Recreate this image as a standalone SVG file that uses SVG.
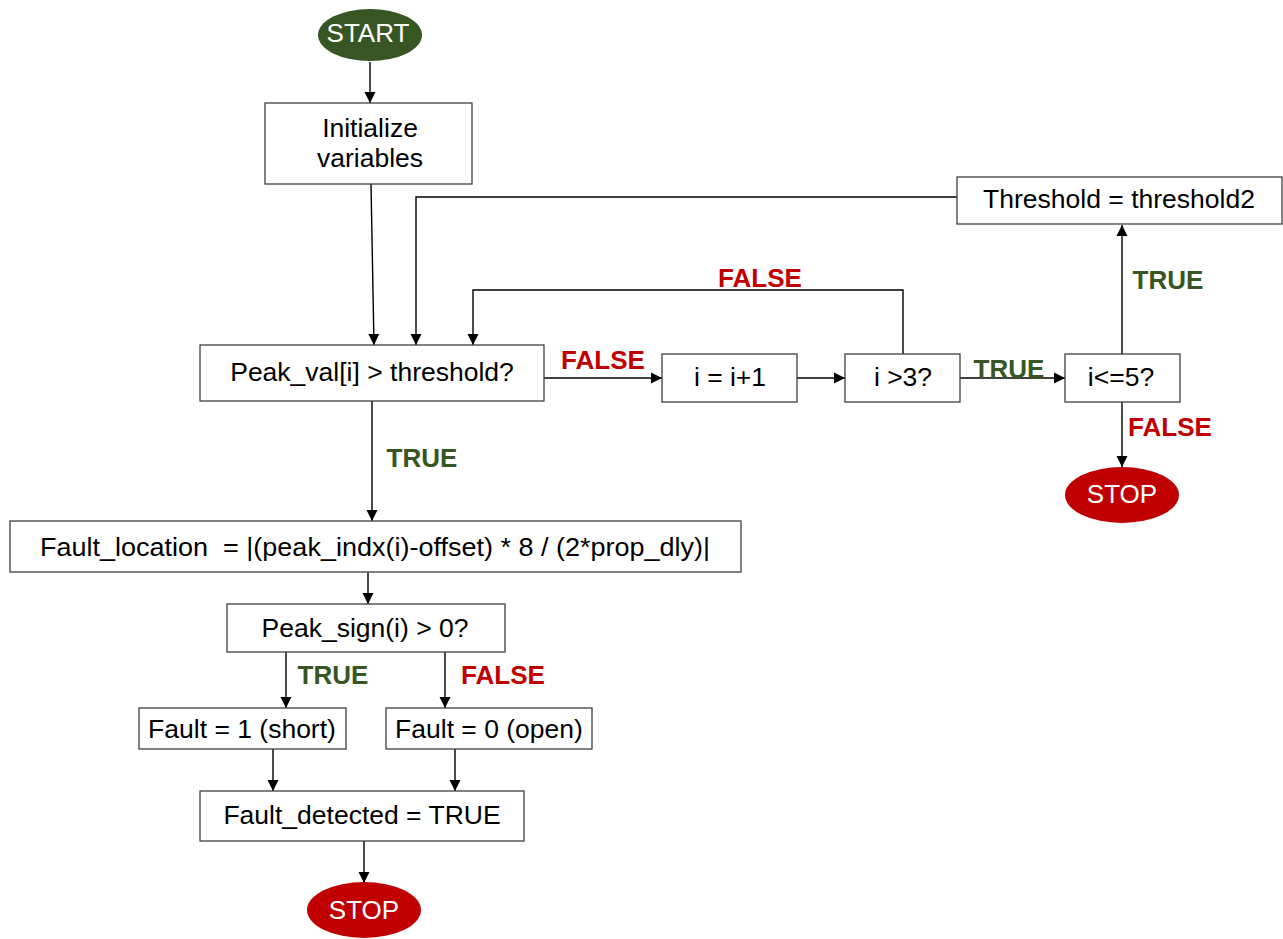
<svg xmlns="http://www.w3.org/2000/svg" width="1283" height="939" viewBox="0 0 1283 939">
<defs>
<marker id="ah" markerUnits="userSpaceOnUse" markerWidth="12" markerHeight="12" refX="11" refY="6" orient="auto">
<path d="M0,0.5 L11,6 L0,11.5 z" fill="#000"/>
</marker>
<style>
.box{fill:#fff;stroke:#404040;stroke-width:1.3}
.t{font-family:"Liberation Sans",Arial,sans-serif;font-size:26.5px;fill:#000;text-anchor:middle}
.w{font-family:"Liberation Sans",Arial,sans-serif;font-size:26px;fill:#fff;text-anchor:middle}
.lt{font-family:"Liberation Sans",Arial,sans-serif;font-size:26px;font-weight:bold;fill:#375623;text-anchor:middle}
.lf{font-family:"Liberation Sans",Arial,sans-serif;font-size:26px;font-weight:bold;fill:#C00000;text-anchor:middle}
.c{fill:none;stroke:#000;stroke-width:1.4;marker-end:url(#ah)}
</style>
</defs>
<rect width="1283" height="939" fill="#fff"/>
<g id="connectors">
<path class="c" d="M370,62 L370,103"/>
<path class="c" d="M371,184 L374,345"/>
<path class="c" d="M957,197 L416,197 L416,345"/>
<path class="c" d="M903,354 L903,290 L473,290 L473,345"/>
<path class="c" d="M544,378 L662,378"/>
<path class="c" d="M797,378 L845,378"/>
<path class="c" d="M960,378 L1065,378"/>
<path class="c" d="M1122,354 L1122,225"/>
<path class="c" d="M1122,402 L1122,467"/>
<path class="c" d="M372,401 L372,521"/>
<path class="c" d="M368,572 L368,604"/>
<path class="c" d="M286,652 L286,708"/>
<path class="c" d="M445,652 L445,708"/>
<path class="c" d="M273,749 L273,791"/>
<path class="c" d="M455,749 L455,791"/>
<path class="c" d="M364,841 L364,883"/>
<text class="lf" x="603" y="369">FALSE</text>
<text class="lf" x="760" y="287">FALSE</text>
<text class="lt" x="1009" y="378">TRUE</text>
<text class="lt" x="1168" y="289">TRUE</text>
<text class="lf" x="1170" y="436">FALSE</text>
<text class="lt" x="422" y="467">TRUE</text>
<text class="lt" x="333" y="684">TRUE</text>
<text class="lf" x="503" y="684">FALSE</text>
</g>
<g id="start"><ellipse cx="370" cy="35" rx="52" ry="26" fill="#375623"/><text class="w" x="368" y="42">START</text></g>
<g id="init"><rect class="box" x="265" y="103" width="207" height="81"/><text class="t" x="370" y="137">Initialize</text><text class="t" x="370" y="167">variables</text></g>
<g id="threshold2"><rect class="box" x="957" y="177" width="325" height="47"/><text class="t" x="1119" y="208">Threshold = threshold2</text></g>
<g id="peakval"><rect class="box" x="200" y="345" width="344" height="56"/><text class="t" x="372" y="381">Peak_val[i] &gt; threshold?</text></g>
<g id="inc"><rect class="box" x="662" y="354" width="135" height="48"/><text class="t" x="730" y="386">i = i+1</text></g>
<g id="igt3"><rect class="box" x="845" y="354" width="115" height="48"/><text class="t" x="903" y="386">i &gt;3?</text></g>
<g id="ile5"><rect class="box" x="1065" y="354" width="115" height="48"/><text class="t" x="1121" y="386">i&lt;=5?</text></g>
<g id="stop1"><ellipse cx="1122" cy="495" rx="57" ry="28" fill="#C00000"/><text class="w" x="1122" y="503">STOP</text></g>
<g id="faultloc"><rect class="box" x="10" y="521" width="731" height="51"/><text class="t" x="375" y="556" xml:space="preserve" style="white-space:pre" textLength="670" lengthAdjust="spacingAndGlyphs">Fault_location  = |(peak_indx(i)-offset) * 8 / (2*prop_dly)|</text></g>
<g id="peaksign"><rect class="box" x="227" y="604" width="278" height="48"/><text class="t" x="365" y="637">Peak_sign(i) &gt; 0?</text></g>
<g id="fault1"><rect class="box" x="139" y="708" width="207" height="41"/><text class="t" x="242" y="738">Fault = 1 (short)</text></g>
<g id="fault0"><rect class="box" x="386" y="708" width="206" height="41"/><text class="t" x="489" y="738">Fault = 0 (open)</text></g>
<g id="detected"><rect class="box" x="200" y="791" width="324" height="50"/><text class="t" x="362" y="824">Fault_detected = TRUE</text></g>
<g id="stop2"><ellipse cx="364" cy="910" rx="57" ry="28" fill="#C00000"/><text class="w" x="364" y="919">STOP</text></g>
</svg>
